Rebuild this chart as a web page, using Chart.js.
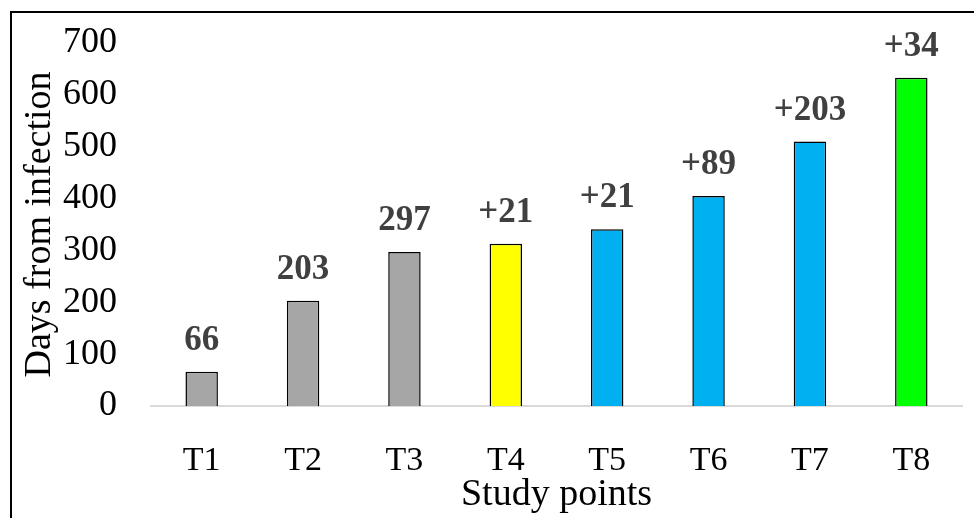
<!DOCTYPE html>
<html>
<head>
<meta charset="utf-8">
<script src="https://cdn.jsdelivr.net/npm/chart.js@4"></script>
<style>
  body { margin: 0; background: #fff; }
  #wrap { width: 974px; height: 518px; }
</style>
</head>
<body>
<div id="wrap"><canvas id="daysChart"></canvas></div>
<script>
const studyPoints = ["T1", "T2", "T3", "T4", "T5", "T6", "T7", "T8"];
const days = [66, 203, 297, 313, 341, 405, 510, 633];
const barLabels = ["66", "203", "297", "+21", "+21", "+89", "+203", "+34"];
const barColors = ["#a6a6a6", "#a6a6a6", "#a6a6a6", "#ffff00", "#00b0f0", "#00b0f0", "#00b0f0", "#00ff00"];

const serif = "'Liberation Serif', 'Times New Roman', serif";

// Labels over the bars
const barText = {
    id: "barText",
    afterDatasetsDraw(chart) {
        const ctx = chart.ctx;
        const meta = chart.getDatasetMeta(0);
        ctx.save();
        ctx.font = "bold 35px " + serif;
        ctx.fillStyle = "#404040";
        ctx.textAlign = "center";
        ctx.textBaseline = "alphabetic";
        meta.data.forEach((bar, i) => {
            ctx.fillText(barLabels[i], bar.x, bar.y - 22);
        });
        ctx.restore();
    }
};

// Outer frame, only top and left edges show in the picture
const frame = {
    id: "frame",
    afterDraw(chart) {
        const ctx = chart.ctx;
        ctx.save();
        ctx.strokeStyle = "#000";
        ctx.lineWidth = 2;
        ctx.strokeRect(11, 12, 1200, 1200);
        ctx.restore();
    }
};

const ctx = document.getElementById("daysChart").getContext("2d");
new Chart(ctx, {
    type: "bar",
    data: {
        labels: studyPoints,
        datasets: [{
            data: days,
            backgroundColor: barColors,
            borderColor: "#000",
            borderWidth: 1.5,
            barPercentage: 0.32,
            categoryPercentage: 1,
        }]
    },
    options: {
        responsive: true,
        maintainAspectRatio: false,
        animation: false,
        layout: {
            padding: { top: 43, left: 12, right: 12, bottom: 0 }
        },
        plugins: {
            legend: { display: false },
            tooltip: { enabled: false },
        },
        scales: {
            y: {
                min: 0,
                max: 700,
                ticks: {
                    stepSize: 100,
                    color: "#000",
                    padding: 34,
                    font: { family: serif, size: 36 },
                },
                grid: { display: false, drawTicks: false },
                border: { display: false },
                title: {
                    display: true,
                    text: "Days from infection",
                    color: "#000",
                    font: { family: serif, size: 38 },
                    padding: { top: 5, bottom: 0 },
                },
                afterFit(scale) {
                    scale.width = 139;
                    // tick padding would otherwise push the plot down
                    scale.paddingTop = 0;
                    scale.paddingBottom = 0;
                },
            },
            x: {
                ticks: {
                    color: "#000",
                    padding: 35,
                    font: { family: serif, size: 34 },
                },
                grid: { display: false, drawTicks: false },
                border: { display: true, color: "#d9d9d9", width: 2 },
                title: {
                    display: true,
                    text: "Study points",
                    color: "#000",
                    font: { family: serif, size: 38 },
                    padding: { top: 0, bottom: 0 },
                },
                afterFit(scale) { scale.height = 112; },
            },
        },
    },
    plugins: [barText, frame],
});
</script>
</body>
</html>
